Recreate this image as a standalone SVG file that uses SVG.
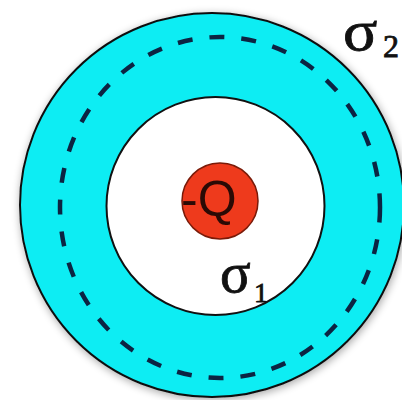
<svg xmlns="http://www.w3.org/2000/svg" width="402" height="400" viewBox="0 0 402 400">
<defs>
<filter id="sh" x="-10%" y="-10%" width="120%" height="120%"><feGaussianBlur in="SourceAlpha" stdDeviation="4"/><feOffset dx="1" dy="2"/><feComponentTransfer><feFuncA type="linear" slope="0.35"/></feComponentTransfer><feMerge><feMergeNode/><feMergeNode in="SourceGraphic"/></feMerge></filter>
</defs>
<style>
.line{stroke:#111;stroke-width:2}
.greek{font-family:"Liberation Serif",serif;fill:#111;stroke:#111;stroke-width:0.8}
.q{font-family:"Liberation Sans",Arial,sans-serif;fill:#2a0a05}
</style>
<rect width="402" height="400" fill="#fff"/>
<g id="outer-shell" filter="url(#sh)"><circle cx="212" cy="205" r="192" fill="#0CEDF3" class="line"/></g>
<g id="gaussian-surface"><ellipse cx="220" cy="207.5" rx="160" ry="170.5" fill="none" stroke="#0c2442" stroke-width="4.5" stroke-dasharray="15 17"/></g>
<g id="inner-cavity"><circle cx="215.5" cy="206" r="109" fill="#fff" class="line"/></g>
<g id="charge"><circle cx="220" cy="201" r="38" fill="#EE3A1C" stroke="#7a1a08" stroke-width="1.5"/>
<text x="181" y="216" class="q" font-size="50">-Q</text></g>
<g id="labels">
<text x="343" y="50" class="greek" font-size="58" transform="translate(343 50) scale(1.1 1) translate(-343 -50)">σ</text><text x="383" y="57" class="greek" font-size="32">2</text>
<text x="220" y="292" class="greek" font-size="57">σ</text><text x="254" y="302" class="greek" font-size="28">1</text>
</g>
</svg>
